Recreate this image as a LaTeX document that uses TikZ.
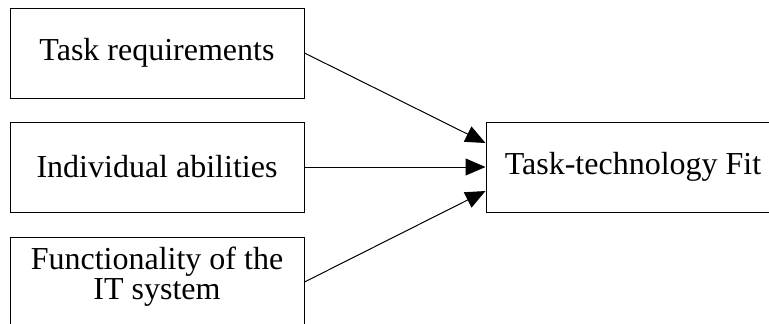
\documentclass[tikz,border=0pt]{standalone}
\usepackage{fontspec}
\setmainfont{Liberation Serif}
\usetikzlibrary{arrows.meta,positioning}
\begin{document}
\begin{tikzpicture}
	[x=1pt,y=-1pt,
	every node/.style={font=\fontsize{32}{30}\selectfont},
	box/.style={draw,line width=1pt,rectangle,minimum width=294pt,minimum height=90pt,inner sep=0pt,align=center},
	link/.style={line width=1pt,-{Triangle[length=20pt,width=17pt]}}
	]
	\useasboundingbox (0,0) rectangle (769,324);
	\clip (0,0) rectangle (769,324);
	\node[box] (req) at (157,53) {Task requirements};
	\node[box,below=23pt of req] (abil) {Individual abilities};
	\node[box,below=24pt of abil,text depth=17pt] (func) {Functionality of the\\IT system};
	\node[box,right=181pt of abil] (fit) {Task-technology Fit};
	\draw[link] (req.east) -- ([yshift=24pt]fit.west);
	\draw[link] (abil.east) -- (fit.west);
	\draw[link] (func.east) -- ([yshift=-24pt]fit.west);
\end{tikzpicture}
\end{document}
